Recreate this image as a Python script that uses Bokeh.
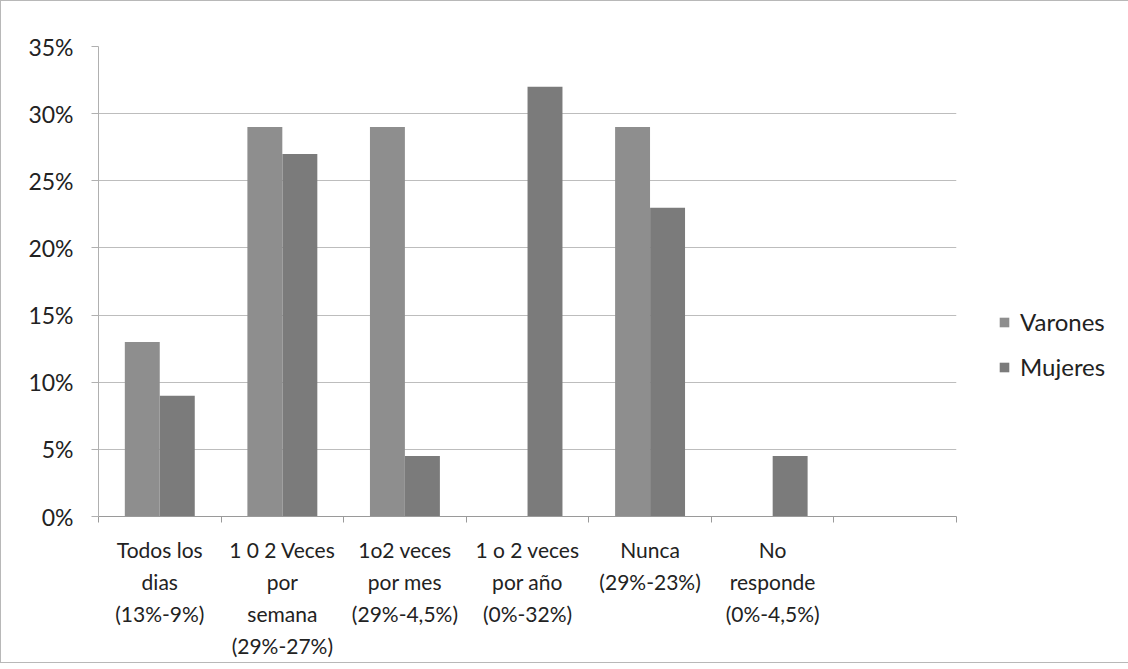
from bokeh.plotting import figure
from bokeh.models import (ColumnDataSource, Legend, LegendItem, NumeralTickFormatter,
                          FixedTicker, LinearAxis, Range1d)
from bokeh.embed import file_html
from bokeh.resources import INLINE

# ---- data ----
categories = ["Todos los dias", "1 0 2 Veces por semana", "1o2 veces por mes",
              "1 o 2 veces por año", "Nunca", "No responde", ""]
category_label_lines = [
    ["Todos los", "dias", "(13%-9%)"],
    ["1 0 2 Veces", "por", "semana", "(29%-27%)"],
    ["1o2 veces", "por mes", "(29%-4,5%)"],
    ["1 o 2 veces", "por año", "(0%-32%)"],
    ["Nunca", "(29%-23%)"],
    ["No", "responde", "(0%-4,5%)"],
    [],
]
varones = [0.13, 0.29, 0.29, 0.0, 0.29, 0.0, 0.0]
mujeres = [0.09, 0.27, 0.045, 0.32, 0.23, 0.045, 0.0]
series_names = ["Varones", "Mujeres"]
y_ticks = [0, 0.05, 0.10, 0.15, 0.20, 0.25, 0.30, 0.35]

FONT = "Lato"
BAR_W = 0.285
OFFSET = 0.1428

n = len(categories)
centers = [i + 0.5 for i in range(n)]
source = ColumnDataSource(dict(
    x_v=[c - OFFSET for c in centers], x_m=[c + OFFSET for c in centers],
    varones=varones, mujeres=mujeres))

p = figure(
    x_range=Range1d(0, n),
    y_range=Range1d(0, y_ticks[-1]),
    width=1126, height=661,
    frame_width=858, frame_height=470,
    min_border_left=97, min_border_right=171,
    min_border_top=45, min_border_bottom=146,
    output_backend="svg", toolbar_location=None,
)

r1 = p.vbar(x="x_v", top="varones", width=BAR_W, source=source,
            fill_color="#8e8e8e", line_color=None)
r2 = p.vbar(x="x_m", top="mujeres", width=BAR_W, source=source,
            fill_color="#7b7b7b", line_color=None)

# grid
p.xgrid.grid_line_color = None
p.ygrid.grid_line_color = "#bdbdbd"
p.ygrid.grid_line_width = 1
p.ygrid.ticker = FixedTicker(ticks=y_ticks)
p.outline_line_color = None

# y axis
p.yaxis.ticker = FixedTicker(ticks=y_ticks)
p.yaxis.formatter = NumeralTickFormatter(format="0%")
p.yaxis.axis_line_color = "#b0b0b0"
p.yaxis.major_tick_line_color = "#b0b0b0"
p.yaxis.major_tick_out = 7
p.yaxis.major_tick_in = 0
p.yaxis.minor_tick_line_color = None
p.yaxis.major_label_text_font = FONT
p.yaxis.major_label_text_font_size = "23px"
p.yaxis.major_label_text_color = "#222222"
p.yaxis.major_label_standoff = 18

# x axis: ticks at the category boundaries, no labels
p.xaxis.ticker = FixedTicker(ticks=list(range(n + 1)))
p.xaxis.axis_line_color = "#9a9a9a"
p.xaxis.major_tick_line_color = "#9a9a9a"
p.xaxis.major_tick_out = 6
p.xaxis.major_tick_in = 0
p.xaxis.minor_tick_line_color = None
p.xaxis.major_label_text_font_size = "0px"
p.xaxis.major_label_text_color = None
p.xaxis.major_label_standoff = 0

# category labels: one label-only axis per text line, stacked below
max_lines = max(len(l) for l in category_label_lines)
for k in range(max_lines):
    overrides = {c: (lines[k] if k < len(lines) else "")
                 for c, lines in zip(centers, category_label_lines)}
    ax = LinearAxis(ticker=FixedTicker(ticks=centers), major_label_overrides=overrides)
    ax.axis_line_color = None
    ax.major_tick_line_color = None
    ax.minor_tick_line_color = None
    ax.major_tick_out = 0
    ax.major_tick_in = 0
    ax.major_label_standoff = 14 if k == 0 else 4
    ax.major_label_text_font = FONT
    ax.major_label_text_font_size = "21px"
    ax.major_label_text_color = "#222222"
    p.add_layout(ax, "below")

legend = Legend(
    items=[LegendItem(label=series_names[0], renderers=[r1]),
           LegendItem(label=series_names[1], renderers=[r2])],
    location=(42, 135),
    glyph_width=12, glyph_height=12,
    label_text_font=FONT, label_text_font_size="24px", label_text_color="#222222",
    label_height=26, spacing=16, label_standoff=10,
    border_line_color=None, background_fill_alpha=0,
)
p.add_layout(legend, "right")

p.styles = {"border": "1px solid #b8b8b8"}

open("out.html", "w").write(file_html(p, INLINE))
